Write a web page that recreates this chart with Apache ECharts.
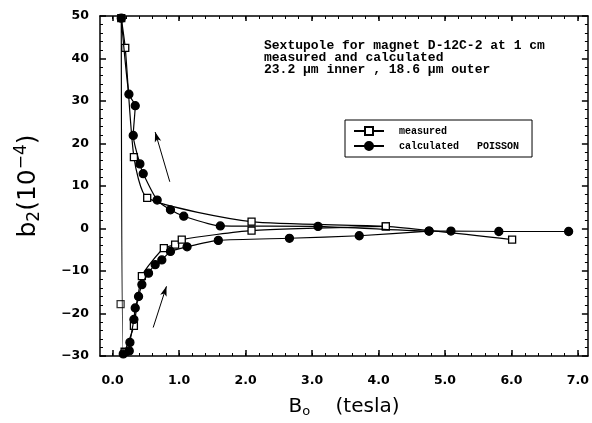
<!DOCTYPE html>
<html>
<head>
<meta charset="utf-8">
<script src="https://cdn.jsdelivr.net/npm/echarts@6/dist/echarts.min.js"></script>
<style>
html, body { margin: 0; padding: 0; background: #fff; }
#draw { width: 592px; height: 423px; }
</style>
</head>
<body>
<div id="draw"></div>
<script>
// values: [B (tesla), b2 (1e-4)]
var calcUpper = [[6.86, -0.7], [5.81, -0.7], [5.09, -0.6], [4.76, -0.6], [3.09, 0.5], [1.62, 0.6],
	[1.07, 2.9], [0.87, 4.4], [0.67, 6.7], [0.46, 12.9], [0.41, 15.2], [0.31, 21.9], [0.34, 28.9],
	[0.245, 31.6], [0.13, 49.5]];
var calcLower = [[0.16, -29.5], [0.25, -28.8], [0.26, -26.8], [0.32, -21.4], [0.34, -18.7], [0.39, -16],
	[0.44, -13.2], [0.54, -10.5], [0.64, -8.5], [0.74, -7.4], [0.87, -5.4], [1.12, -4.3], [1.59, -2.8],
	[2.66, -2.3], [3.71, -1.7], [4.76, -0.6]];
var measUpper = [[6.01, -2.6], [4.11, 0.5], [2.09, 1.6], [0.52, 7.2], [0.32, 16.8], [0.19, 42.5], [0.13, 49.5]];
var measLower = [[0.18, -29], [0.32, -22.9], [0.44, -11.2], [0.77, -4.6], [0.94, -3.8], [1.04, -2.6],
	[2.09, -0.5], [4.11, 0.5]];
var measSingle = [[0.12, -17.8]];

var xLabels = [0, 1, 2, 3, 4, 5, 6, 7];
var yLabels = [-30, -20, -10, 0, 10, 20, 30, 40, 50];
var titleLines = ['Sextupole for magnet D-12C-2 at 1 cm', 'measured and calculated',
	'23.2 \u03bcm inner , 18.6 \u03bcm outer'];

// arrows showing sweep direction
var arrowUp = [[0.86, 11], [0.64, 22.7]];
var arrowDown = [[0.61, -23.3], [0.81, -13.6]];

var xMinor = [];
for (var i = 0; i <= 35; i++) {
	xMinor.push(Math.round(i * 20) / 100);
}

var XMIN = -0.19, XMAX = 7.15;
var tickFont = {
	color : '#000',
	fontFamily : 'DejaVu Sans',
	fontWeight : 'bold',
	fontSize : 12.5
};

var myChart = echarts.init(document.getElementById('draw'));

var measName = 'measured';
var calcName = 'calculated   POISSON';

function baseX(pos) {
	return {
		type : 'value',
		position : pos,
		min : XMIN,
		max : XMAX,
		splitLine : { show : false },
		axisLine : { show : true, onZero : false, lineStyle : { color : '#000', width : 1.5 } }
	};
}

var xBottom = baseX('bottom');
xBottom.axisTick = { inside : true, length : 6, customValues : xLabels, lineStyle : { color : '#000', width : 1.5 } };
xBottom.axisLabel = {
	customValues : xLabels,
	margin : 18,
	formatter : function(v) { return v.toFixed(1); }
};
Object.assign(xBottom.axisLabel, tickFont);
xBottom.name = 'B{sub|o}    (tesla)';
xBottom.nameLocation = 'middle';
xBottom.nameGap = 40;
xBottom.nameTextStyle = {
	color : '#000',
	fontFamily : 'DejaVu Sans',
	fontSize : 20,
	rich : {
		sub : { fontSize : 13, fontFamily : 'DejaVu Sans', color : '#000', padding : [9, 0, 0, 0] }
	}
};

var xBottomMinor = baseX('bottom');
xBottomMinor.axisLine = { show : false, onZero : false };
xBottomMinor.axisLabel = { show : false };
xBottomMinor.axisTick = { inside : true, length : 3, customValues : xMinor, lineStyle : { color : '#000' } };

var xTop = baseX('top');
xTop.axisLabel = { show : false };
xTop.axisTick = { inside : true, length : 5, customValues : xLabels, lineStyle : { color : '#000', width : 1.5 } };

var xTopMinor = baseX('top');
xTopMinor.axisLine = { show : false, onZero : false };
xTopMinor.axisLabel = { show : false };
xTopMinor.axisTick = { inside : true, length : 3, customValues : xMinor, lineStyle : { color : '#000' } };

function baseY(pos) {
	return {
		type : 'value',
		position : pos,
		min : yLabels[0],
		max : yLabels[yLabels.length - 1],
		interval : 10,
		splitLine : { show : false },
		axisLine : { show : true, onZero : false, lineStyle : { color : '#000', width : 1.5 } },
		axisTick : { inside : true, length : 6, lineStyle : { color : '#000', width : 1.5 } },
		minorTick : { show : true, splitNumber : 5, length : 3, lineStyle : { color : '#000' } },
		minorSplitLine : { show : false }
	};
}

var yLeft = baseY('left');
yLeft.axisLabel = Object.assign({ margin : 11, formatter : function(v) { return String(v).replace('-', '\u2212'); } }, tickFont);
yLeft.name = 'b{sub|2}(10{sup|\u22124})';
yLeft.nameLocation = 'middle';
yLeft.nameRotate = 90;
yLeft.nameGap = 56;
yLeft.nameTextStyle = {
	color : '#000',
	fontFamily : 'DejaVu Sans',
	fontSize : 25,
	rich : {
		sub : { fontSize : 17, fontFamily : 'DejaVu Sans', color : '#000', padding : [12, 0, 0, 0] },
		sup : { fontSize : 17, fontFamily : 'DejaVu Sans', color : '#000', padding : [0, 0, 14, 0] }
	}
};

var yRight = baseY('right');
yRight.axisLabel = { show : false };

function lineSeries(name, data, symbol, size, fill, xi) {
	return {
		name : name,
		type : 'line',
		data : data,
		symbol : symbol,
		symbolSize : size,
		smooth : 0.2,
		showAllSymbol : true,
		lineStyle : { color : '#000', width : 1.2 },
		itemStyle : { color : fill, borderColor : '#000', borderWidth : 1.3 },
		z : xi
	};
}

var calcLoop = calcUpper.concat(calcLower);

option = {
	animation : false,
	backgroundColor : '#fff',
	grid : {
		left : 100,
		right : 2,
		top : 16,
		bottom : 65
	},
	legend : {
		orient : 'vertical',
		left : 345,
		top : 120,
		padding : [6, 13, 6, 8],
		itemWidth : 30,
		itemHeight : 10,
		itemGap : 5,
		borderColor : '#000',
		borderWidth : 1,
		data : [measName, calcName],
		textStyle : {
			color : '#000',
			fontFamily : 'Liberation Mono',
			fontWeight : 'bold',
			fontSize : 10,
			padding : [0, 0, 0, 10]
		}
	},
	xAxis : [xBottom, xBottomMinor, xTop, xTopMinor],
	yAxis : [yLeft, yRight],
	graphic : [{
		type : 'text',
		left : 264,
		top : 39,
		style : {
			text : titleLines.join('\n'),
			fill : '#000',
			font : 'bold 13px "Liberation Mono"',
			lineHeight : 12
		}
	}],
	series : [
		lineSeries(measName, measUpper, 'rect', 7, '#fff', 3),
		lineSeries(measName, measLower, 'rect', 7, '#fff', 3),
		{
			name : measName,
			type : 'scatter',
			data : measSingle,
			symbol : 'rect',
			symbolSize : 7,
			itemStyle : { color : '#fff', borderColor : '#000', borderWidth : 1.3 },
			z : 3
		},
		lineSeries(calcName, calcLoop, 'circle', 8, '#000', 4),
		{
			type : 'line',
			data : [],
			silent : true,
			markLine : {
				silent : true,
				symbol : ['none', 'arrow'],
				symbolSize : [5, 10],
				label : { show : false },
				lineStyle : { color : '#000', width : 1, type : 'solid' },
				data : [
					[{ coord : arrowUp[0] }, { coord : arrowUp[1] }],
					[{ coord : arrowDown[0] }, { coord : arrowDown[1] }]
				]
			}
		}
	]
};
myChart.setOption(option);
</script>
</body>
</html>
